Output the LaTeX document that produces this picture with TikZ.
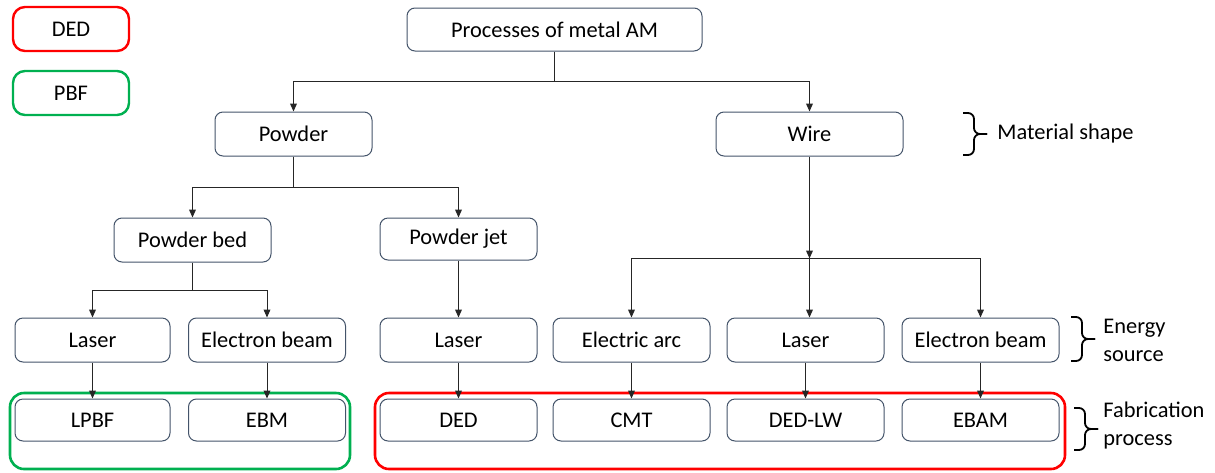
\documentclass[tikz,border=0pt]{standalone}
\usepackage{fontspec}
\setmainfont{Carlito}
\usetikzlibrary{arrows.meta}
\usetikzlibrary{positioning}
\definecolor{boxline}{HTML}{44546A}
\definecolor{dedred}{HTML}{FF0000}
\definecolor{pbfgreen}{HTML}{00B050}
\tikzstyle{line}=[-, line width=0.5pt, black!85]
\tikzstyle{arr}=[line, -{Triangle[length=4pt,width=3.4pt]}]
\tikzstyle{block}=[rectangle, draw=boxline, line width=0.5pt, fill=white,
		text=black, rounded corners=4pt, minimum width=78.5pt,
		minimum height=22pt, inner sep=0pt, font=\fontsize{11.2}{13.5}\selectfont]
\tikzstyle{key}=[block, line width=1.2pt, minimum width=58pt, rounded corners=6pt]
\tikzstyle{group}=[line width=1.3pt, rounded corners=7pt]
\tikzstyle{side}=[anchor=west, align=left, inner sep=0pt,
		font=\fontsize{11.2}{14}\selectfont]
% curly bracket on the right: #1 = x, #2 = top, #3 = bottom
\newcommand{\sidebrace}[3]{%
  \draw[line width=0.9pt, rounded corners=3pt]
    (#1,#2) -- ++(11,0) |- ($(#1,#2)!0.5!(#1,#3)+(24,0)$);
  \draw[line width=0.9pt, rounded corners=3pt]
    (#1,#3) -- ++(11,0) |- ($(#1,#2)!0.5!(#1,#3)+(24,0)$);
}
\usetikzlibrary{calc}

\begin{document}
\begin{tikzpicture}[x=0.5pt, y=-0.5pt]

  \useasboundingbox (0,0) rectangle (1215,472);

  % legend
  \node (DEDkey) [key, draw=dedred] at (71,29) {DED};
  \node (PBFkey) [key, draw=pbfgreen] at (71,93) {PBF};

  % material shape
  \node (Root) [block, minimum width=147.5pt, minimum height=21.5pt] at (554.5,29.5)
    {Processes of metal AM};
  \node (Pow) [block] at (293.5,134) {Powder};
  \node (Wir) [block, minimum width=93.5pt] at (809.5,134) {Wire};

  \node (PBed) [block] at (192.5,240) {Powder bed};
  \node (PJet) [block, minimum height=21pt] at (458.5,239) {Powder jet};

  % energy source
  \node (LasA) [block, minimum width=77.5pt] at (92.5,340) {Laser};
  \node (EbA) [block] at (267,340) {Electron beam};
  \node (LasB) [block] at (458.5,340) {Laser};
  \node (Arc) [block] at (631.5,340) {Electric arc};
  \node (LasC) [block] at (805.5,340) {Laser};
  \node (EbC) [block] at (980.5,340) {Electron beam};

  % fabrication process
  \node (LPBF) [block, minimum width=77.5pt, minimum height=21pt,
    below=18pt of LasA] {LPBF};
  \node (EBM) [block, minimum height=21pt, below=18pt of EbA] {EBM};
  \node (DED) [block, minimum height=21pt, below=18pt of LasB] {DED};
  \node (CMT) [block, minimum height=21pt, below=18pt of Arc] {CMT};
  \node (DEDLW) [block, minimum height=21pt, below=18pt of LasC] {DED-LW};
  \node (EBAM) [block, minimum height=21pt, below=18pt of EbC] {EBAM};

  \draw[group, pbfgreen] (10,393) rectangle (350,469);
  \draw[group, dedred] (375,393) rectangle (1065,469);

  % tree
  \draw[arr] (Root.south) -- ++(0,30) -| (Pow.north);
  \draw[arr] (Root.south) -- ++(0,30) -| (Wir.north);

  \draw[arr] (Pow.south) -- ++(0,31) -| (PBed.north);
  \draw[arr] (Pow.south) -- ++(0,31) -| (PJet.north);

  \draw[arr] (PBed.south) -- ++(0,28) -| (LasA.north);
  \draw[arr] (PBed.south) -- ++(0,28) -| (EbA.north);
  \draw[arr] (PJet) -- (LasB);

  \draw[arr] (Wir.south) -- ++(0,102) coordinate (WBus);
  \draw[arr] (WBus) -| (Arc.north);
  \draw[arr] (WBus) -| (EbC.north);
  \draw[arr] (WBus) -- (WBus |- LasC.north);

  \draw[arr] (LasA) -- (LPBF);
  \draw[arr] (EbA) -- (EBM);
  \draw[arr] (LasB) -- (DED);
  \draw[arr] (Arc) -- (CMT);
  \draw[arr] (LasC) -- (DEDLW);
  \draw[arr] (EbC) -- (EBAM);

  % level labels
  \sidebrace{963}{113}{155}
  \node (MatLbl) [side] at (997,134) {Material shape};
  \sidebrace{1071}{317}{361}
  \node (EnLbl) [side] at (1103,340) {Energy\\source};
  \sidebrace{1074}{408}{450}
  \node (FabLbl) [side] at (1103,426) {Fabrication\\process};

\end{tikzpicture}
\end{document}
